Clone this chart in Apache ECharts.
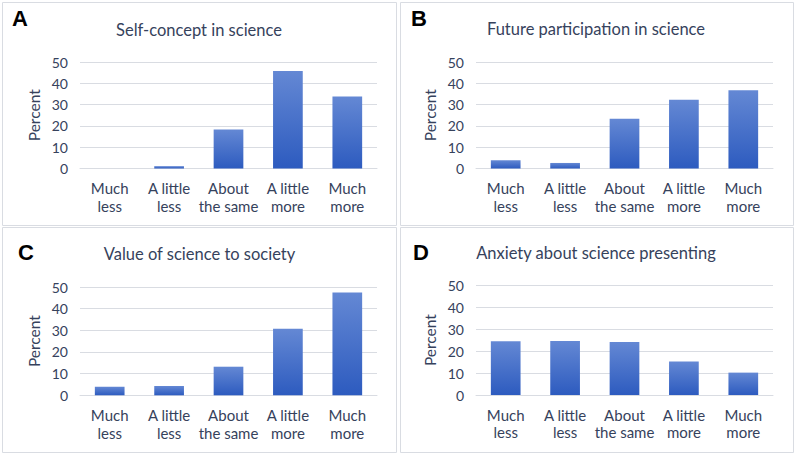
<!DOCTYPE html>
<html>
<head>
<meta charset="utf-8">
<script src="https://cdn.jsdelivr.net/npm/echarts@6/dist/echarts.min.js"></script>
<style>
  html, body { margin: 0; padding: 0; background: #fff; }
  #chart { width: 796px; height: 456px; }
</style>
</head>
<body>
<div id="chart"></div>
<script>
'use strict';
const categories = ['Much\nless', 'A little\nless', 'About\nthe same', 'A little\nmore', 'Much\nmore'];
const panelTitles = ['Self-concept in science', 'Future participation in science', 'Value of science to society', 'Anxiety about science presenting'];
const panelLetters = ['A', 'B', 'C', 'D'];
const selfConcept = [0, 1.1, 18.3, 45.8, 33.8];
const futureParticipation = [3.9, 2.6, 23.4, 32.3, 36.7];
const valueToSociety = [4.0, 4.3, 13.2, 30.7, 47.5];
const anxietyPresenting = [24.5, 24.6, 24.2, 15.3, 10.2];
const yMin = 0;
const yMax = 50;
const yStep = 10;

const seriesData = [selfConcept, futureParticipation, valueToSociety, anxietyPresenting];

const FONT = 'Lato, "Open Sans", sans-serif';
const TEXT_COLOR = '#36425c';
const LINE_COLOR = '#d9dce2';

// panel layout: box, grid, title centre, letter position
const panels = [
    { box: [2.5, 2.5, 394, 223], grid: [80, 62, 297, 106.5], title: [199, 30], letter: [12, 18] },
    { box: [400.5, 2.5, 393, 223], grid: [476, 62, 297, 106.5], title: [596, 29], letter: [411, 18] },
    { box: [2.5, 227.5, 394, 225], grid: [80, 287, 297, 108.3], title: [199.5, 254], letter: [18, 252] },
    { box: [400.5, 227.5, 393, 225], grid: [476, 285.3, 297, 109.7], title: [596, 253], letter: [413, 252] },
];

function init() {
    const chart = echarts.init(document.getElementById('chart'), null, { renderer: 'svg' });

    const grid = [];
    const xAxis = [];
    const yAxis = [];
    const series = [];
    const graphic = [];

    panels.forEach((p, i) => {
        grid.push({ left: p.grid[0], top: p.grid[1], width: p.grid[2], height: p.grid[3] });
        xAxis.push({
            type: 'category',
            gridIndex: i,
            data: categories,
            axisLine: { show: true, lineStyle: { color: LINE_COLOR } },
            axisTick: { show: false },
            axisLabel: {
                margin: 11,
                interval: 0,
                color: TEXT_COLOR,
                fontFamily: FONT,
                fontSize: 15,
                lineHeight: 17.5,
            },
        });
        yAxis.push({
            type: 'value',
            gridIndex: i,
            min: yMin,
            max: yMax,
            interval: yStep,
            name: 'Percent',
            nameLocation: 'middle',
            nameGap: 38,
            nameTextStyle: { color: TEXT_COLOR, fontFamily: FONT, fontSize: 15.5 },
            axisLine: { show: false },
            axisTick: { show: false },
            splitLine: { lineStyle: { color: LINE_COLOR } },
            axisLabel: { margin: 12, color: TEXT_COLOR, fontFamily: FONT, fontSize: 14 },
        });
        series.push({
            type: 'bar',
            xAxisIndex: i,
            yAxisIndex: i,
            data: seriesData[i],
            barWidth: '50%',
            itemStyle: {
                color: new echarts.graphic.LinearGradient(0, 0, 0, 1, [
                    { offset: 0, color: '#6488d4' },
                    { offset: 1, color: '#2d5bbf' },
                ]),
            },
            silent: true,
        });
        graphic.push({
            type: 'rect',
            shape: { x: p.box[0], y: p.box[1], width: p.box[2], height: p.box[3] },
            style: { fill: 'none', stroke: LINE_COLOR, lineWidth: 1 },
        });
        graphic.push({
            type: 'text',
            x: p.title[0],
            y: p.title[1],
            style: {
                text: panelTitles[i],
                font: '16.5px ' + FONT,
                fill: TEXT_COLOR,
                align: 'center',
                verticalAlign: 'middle',
            },
        });
        graphic.push({
            type: 'text',
            x: p.letter[0],
            y: p.letter[1],
            style: {
                text: panelLetters[i],
                font: 'bold 22px "Liberation Sans", Arial, sans-serif',
                fill: '#000',
                align: 'left',
                verticalAlign: 'middle',
            },
        });
    });

    chart.setOption({
        backgroundColor: '#fff',
        animation: false,
        grid: grid,
        xAxis: xAxis,
        yAxis: yAxis,
        series: series,
        graphic: graphic,
    });
}

init();
</script>
</body>
</html>
